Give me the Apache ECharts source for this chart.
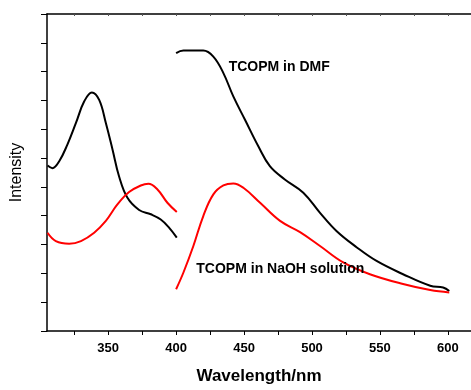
<!DOCTYPE html>
<html><head><meta charset="utf-8">
<script src="https://cdn.jsdelivr.net/npm/echarts@6/dist/echarts.min.js"></script>
<style>html,body{margin:0;padding:0;background:#fff}#c{width:471px;height:390px}</style>
</head><body><div id="c"></div>
<script>
// Excitation spectra (305-400 nm)
const dmfExcX = [305.4, 309, 314, 320, 326.3, 332.4, 338, 343.4, 348.3, 353.2, 358, 364.2, 372.8, 381.4, 388.7, 394.8, 400.5];
const dmfExcY = [57.4, 56.5, 58.9, 64.7, 72.2, 79.7, 82.8, 80.2, 72.2, 63, 53.7, 46.2, 42, 40.5, 38.7, 35.9, 32.4];
const naohExcX = [305.4, 311.5, 321.3, 330, 339.7, 348.3, 356.8, 365.4, 374, 379.6, 386.3, 393.6, 400.5];
const naohExcY = [34.1, 31.2, 30.3, 31.2, 34.1, 38.2, 43.9, 48.2, 50.5, 51.1, 49.1, 44.5, 41.3];
// Emission spectra (400-600 nm)
const dmfEmX = [400, 405.4, 420, 427.4, 434.8, 442.1, 450.7, 460.5, 469, 480, 493.6, 505.9, 518, 533, 547.5, 567, 587, 596.5, 601];
const dmfEmY = [96.4, 97.3, 97.3, 95.2, 89.5, 81.4, 73.3, 64.1, 57.2, 52.6, 48, 41, 34.7, 29, 24.3, 19.7, 15.7, 15.1, 13.9];
const naohEmX = [400, 405.4, 412.7, 420, 427.4, 434.8, 442.1, 449.5, 461.8, 476.5, 491.2, 505.9, 523, 542.6, 567, 587, 601];
const naohEmY = [14.5, 20.3, 29.5, 39.9, 47.4, 50.5, 51.2, 49.7, 44.5, 38.2, 34.3, 29.5, 23.8, 19.7, 16.3, 14.2, 13.4];
const xTickValues = [325, 350, 375, 400, 425, 450, 475, 500, 525, 550, 575, 600];
const xLabelValues = [350, 400, 450, 500, 550, 600];
const labelDMF = 'TCOPM in DMF';
const labelNaOH = 'TCOPM in NaOH solution';

const zip = (xs, ys) => xs.map((x, i) => [x, ys[i]]);
const chart = echarts.init(document.getElementById('c'), null, {renderer: 'canvas'});
const font = 'Liberation Sans, Arial, sans-serif';
const lineSeries = (name, xs, ys, color) => ({
  name, type: 'line', data: zip(xs, ys), smooth: 0.4, symbol: 'none',
  lineStyle: {color, width: 2}, xAxisIndex: 0, yAxisIndex: 0, z: 3
});
chart.setOption({
  animation: false,
  grid: {left: 47, top: 14, bottom: 58, right: 0},
  xAxis: [{
    type: 'value', min: 305, max: 617, position: 'bottom',
    name: 'Wavelength/nm', nameLocation: 'middle', nameGap: 37,
    nameTextStyle: {fontFamily: font, fontWeight: 'bold', fontSize: 17, color: '#000'},
    axisLine: {lineStyle: {color: '#000', width: 1.5}},
    axisTick: {show: true, customValues: xTickValues, length: 4, lineStyle: {color: '#000'}},
    axisLabel: {customValues: xLabelValues, fontFamily: font, fontWeight: 'bold', fontSize: 13, color: '#000', margin: 11},
    splitLine: {show: false}
  }, {
    type: 'value', min: 305, max: 617, position: 'top',
    axisLine: {lineStyle: {color: '#000', width: 1.5}},
    axisTick: {show: true, customValues: xTickValues, length: 2, inside: true, lineStyle: {color: '#555'}},
    axisLabel: {show: false}, splitLine: {show: false}
  }],
  yAxis: {
    type: 'value', min: 0, max: 110, interval: 10,
    name: 'Intensity', nameLocation: 'middle', nameGap: 22, nameRotate: 90,
    nameTextStyle: {fontFamily: font, fontSize: 16, color: '#000'},
    axisLine: {show: true, lineStyle: {color: '#000', width: 1.5}},
    axisTick: {show: true, length: 6, lineStyle: {color: '#000'}},
    axisLabel: {show: false}, splitLine: {show: false}
  },
  series: [
    lineSeries('DMF excitation', dmfExcX, dmfExcY, '#000'),
    lineSeries('NaOH excitation', naohExcX, naohExcY, '#ff0000'),
    lineSeries('DMF emission', dmfEmX, dmfEmY, '#000'),
    Object.assign(lineSeries('NaOH emission', naohEmX, naohEmY, '#ff0000'), {
      markPoint: {
        symbol: 'circle', symbolSize: 1,
        itemStyle: {color: 'rgba(0,0,0,0)'},
        data: [
          {coord: [438.3, 91.4], value: labelDMF},
          {coord: [414.5, 21.6], value: labelNaOH}
        ],
        label: {show: true, position: 'right', distance: 0, formatter: p => p.value,
          fontFamily: font, fontWeight: 'bold', fontSize: 14, color: '#000'}
      }
    })
  ]
});
</script></body></html>
